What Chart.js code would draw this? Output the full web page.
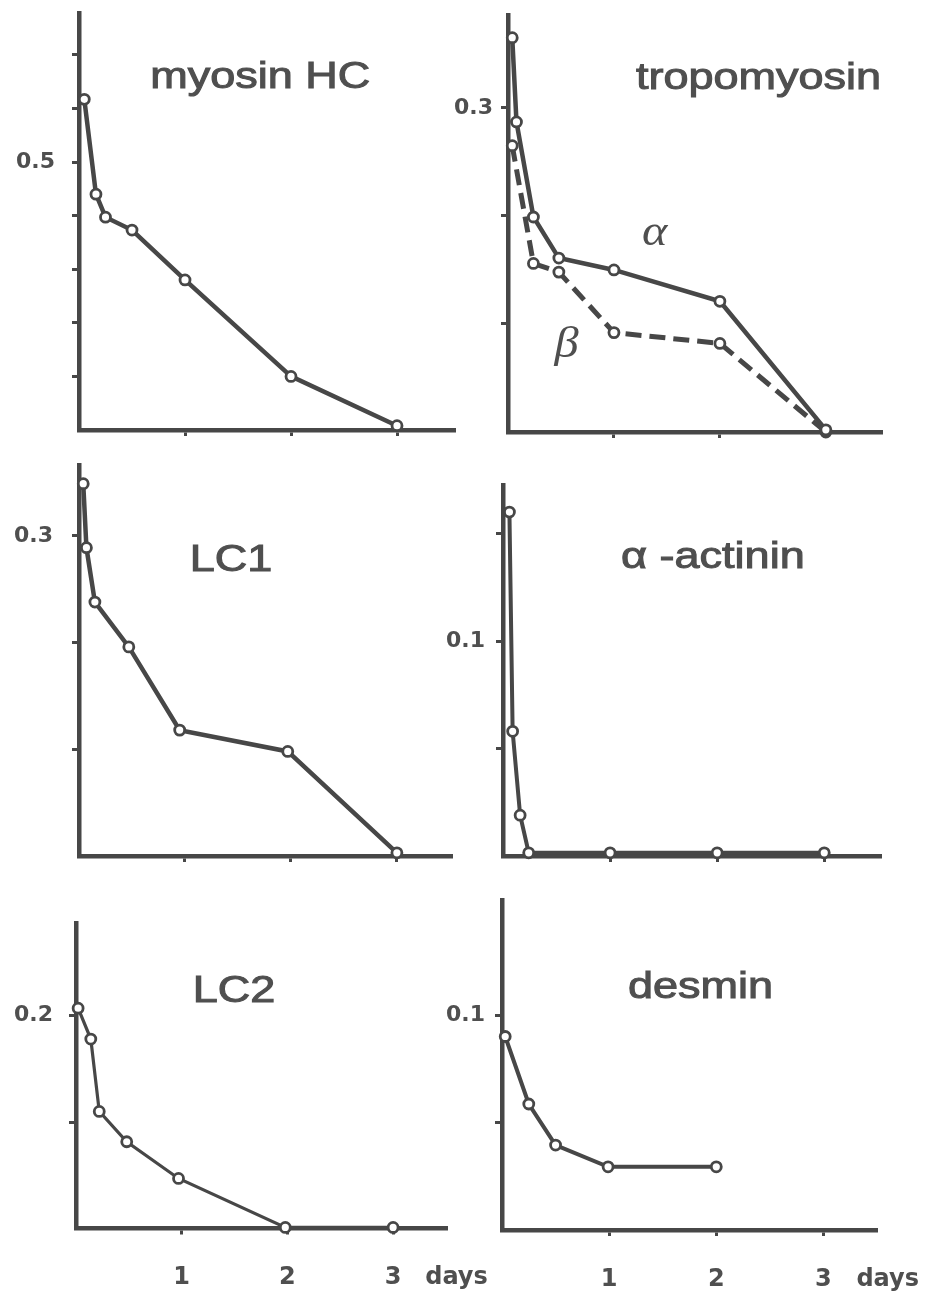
<!DOCTYPE html>
<html>
<head>
<meta charset="utf-8">
<script src="https://cdn.jsdelivr.net/npm/chart.js@4.4.1/dist/chart.umd.min.js"></script>
<style>
  html, body { margin: 0; padding: 0; background: #fff; }
  #page { position: relative; width: 932px; height: 1298px; overflow: hidden; }
  #page canvas { position: absolute; }
</style>
</head>
<body>
<div id="page">
  <canvas id="cMyosin"></canvas>
  <canvas id="cTropo"></canvas>
  <canvas id="cLC1"></canvas>
  <canvas id="cActinin"></canvas>
  <canvas id="cLC2"></canvas>
  <canvas id="cDesmin"></canvas>
</div>
<script>
// ---- data (days after start, relative amount) ----
const myosinDays   = [0.05, 0.16, 0.25, 0.5, 1.0, 2.0, 3.0];
const myosinHC     = [0.617, 0.44, 0.397, 0.373, 0.28, 0.10, 0.008];

const tropoAlphaDays = [0.04, 0.08, 0.24, 0.48, 1.0, 2.0, 3.0];
const tropoAlpha     = [0.365, 0.287, 0.199, 0.161, 0.150, 0.121, 0.002];
const tropoBetaDays  = [0.04, 0.24, 0.48, 1.0, 2.0, 3.0];
const tropoBeta      = [0.265, 0.156, 0.148, 0.092, 0.082, 0.0];

const lc1Days = [0.04, 0.07, 0.15, 0.47, 0.95, 1.97, 3.0];
const lc1     = [0.349, 0.289, 0.238, 0.196, 0.118, 0.098, 0.003];

const actininDays = [0.06, 0.09, 0.16, 0.24, 1.0, 2.0, 3.0];
const actinin     = [0.160, 0.058, 0.019, 0.0015, 0.0015, 0.0015, 0.0015];

const lc2Days = [0.02, 0.14, 0.22, 0.48, 0.97, 1.98, 3.0];
const lc2     = [0.207, 0.178, 0.110, 0.0815, 0.047, 0.001, 0.001];

const desminDays = [0.03, 0.25, 0.5, 0.99, 2.0];
const desmin     = [0.090, 0.0586, 0.0395, 0.0294, 0.0294];

// ---- tick values / labels ----
const xTickDays = [1, 2, 3];
const UNIT_LABEL = "days";
const yTicksMyosin  = [0.1, 0.2, 0.3, 0.4, 0.5, 0.6, 0.7];
const yTicksTropo   = [0.1, 0.2, 0.3];
const yTicksLC1     = [0.1, 0.2, 0.3];
const yTicksActinin = [0.05, 0.1, 0.15];
const yTicksLC2     = [0.1, 0.2];
const yTicksDesmin  = [0.05, 0.1];
const yLabelMyosin = [0.5];
const yLabelTropo = [0.3];
const yLabelLC1 = [0.3];
const yLabelActinin = [0.1];
const yLabelLC2 = [0.2];
const yLabelDesmin = [0.1];

// ---- look ----
const INK  = "#474747";
const TEXT = "#4f4f4f";
const UNIT_AT = 3.6;          // where "days" sits on the x axis
const Y_TICK_LEN = 7;
const X_TICK_LEN = 6;
const TITLE_FONT = '36px "Liberation Sans", Arial, sans-serif';
const GREEK_FONT = 'italic 44px "Liberation Serif", serif';

const panels = [
  {
    id: "cMyosin", box: { left: 0, top: 0, w: 520, h: 445 },
    axis: { left: 79, top: 13, right: 455, bottom: 430 }, yGap: 24,
    xMax: 3.547, yMax: 0.778, yTicks: yTicksMyosin, yLabels: yLabelMyosin, bottomRow: false,
    series: [{ days: myosinDays, values: myosinHC, width: 4.5 }],
    texts: [{ text: "myosin HC", x: 1.71, y: 0.638, font: TITLE_FONT, stretch: 1.25, stroke: 1 }],
  },
  {
    id: "cTropo", box: { left: 420, top: 0, w: 512, h: 445 },
    axis: { left: 508, top: 15, right: 882, bottom: 432 }, yGap: 15,
    xMax: 3.53, yMax: 0.386, yTicks: yTicksTropo, yLabels: yLabelTropo, bottomRow: false,
    series: [
      { days: tropoAlphaDays, values: tropoAlpha, width: 4.5 },
      { days: tropoBetaDays, values: tropoBeta, width: 5, dash: [16, 8] },
    ],
    texts: [
      { text: "tropomyosin", x: 2.365, y: 0.3176, font: TITLE_FONT, stretch: 1.25, stroke: 1 },
      { text: "α", x: 1.384, y: 0.173, font: GREEK_FONT, stretch: 1.1, stroke: 0 },
      { text: "β", x: 0.553, y: 0.069, font: GREEK_FONT, stretch: 1.1, stroke: 0 },
    ],
  },
  {
    id: "cLC1", box: { left: 0, top: 445, w: 520, h: 425 },
    axis: { left: 79, top: 465, right: 452, bottom: 856 }, yGap: 26,
    xMax: 3.52, yMax: 0.3665, yTicks: yTicksLC1, yLabels: yLabelLC1, bottomRow: false,
    series: [{ days: lc1Days, values: lc1, width: 4.5 }],
    texts: [{ text: "LC1", x: 1.434, y: 0.2674, font: TITLE_FONT, stretch: 1.25, stroke: 1 }],
  },
  {
    id: "cActinin", box: { left: 420, top: 445, w: 512, h: 425 },
    axis: { left: 503, top: 485, right: 881, bottom: 856 }, yGap: 18,
    xMax: 3.53, yMax: 0.1726, yTicks: yTicksActinin, yLabels: yLabelActinin, bottomRow: false,
    series: [{ days: actininDays, values: actinin, width: 4 }],
    texts: [{ text: "α -actinin", x: 1.96, y: 0.134, font: TITLE_FONT, stretch: 1.25, stroke: 1 }],
  },
  {
    id: "cLC2", box: { left: 0, top: 870, w: 520, h: 428 },
    axis: { left: 76, top: 923, right: 447, bottom: 1228.5 }, yGap: 23,
    xMax: 3.51, yMax: 0.287, yTicks: yTicksLC2, yLabels: yLabelLC2, bottomRow: true,
    series: [{ days: lc2Days, values: lc2, width: 3.2 }],
    texts: [{ text: "LC2", x: 1.495, y: 0.213, font: TITLE_FONT, stretch: 1.25, stroke: 1 }],
  },
  {
    id: "cDesmin", box: { left: 420, top: 870, w: 512, h: 428 },
    axis: { left: 502, top: 900, right: 877, bottom: 1230 }, yGap: 17,
    xMax: 3.50, yMax: 0.1535, yTicks: yTicksDesmin, yLabels: yLabelDesmin, bottomRow: true,
    series: [{ days: desminDays, values: desmin, width: 4 }],
    texts: [{ text: "desmin", x: 1.853, y: 0.1079, font: TITLE_FONT, stretch: 1.25, stroke: 1 }],
  },
];

// free text drawn at data coordinates (titles, greek letters)
function textPlugin(items) {
  return {
    id: "panelText",
    afterDatasetsDraw(chart) {
      const { ctx, scales } = chart;
      items.forEach((it) => {
        ctx.save();
        ctx.font = it.font;
        ctx.fillStyle = TEXT;
        ctx.strokeStyle = TEXT;
        ctx.textAlign = "center";
        ctx.textBaseline = "alphabetic";
        ctx.translate(scales.x.getPixelForValue(it.x), scales.y.getPixelForValue(it.y));
        ctx.scale(it.stretch, 1);
        ctx.fillText(it.text, 0, 0);
        if (it.stroke) {
          ctx.lineWidth = it.stroke;
          ctx.strokeText(it.text, 0, 0);
        }
        ctx.restore();
      });
    },
  };
}

function makePanel(p) {
  const canvas = document.getElementById(p.id);
  canvas.width = p.box.w;
  canvas.height = p.box.h;
  canvas.style.left = p.box.left + "px";
  canvas.style.top = p.box.top + "px";

  const yAxisWidth = p.axis.left - p.box.left;
  const xAxisHeight = p.box.top + p.box.h - p.axis.bottom;

  new Chart(canvas, {
    type: "scatter",
    data: {
      datasets: p.series.map((s) => ({
        data: s.days.map((d, i) => ({ x: d, y: s.values[i] })),
        showLine: true,
        tension: 0,
        borderColor: INK,
        borderWidth: s.width,
        borderDash: s.dash || [],
        pointRadius: 5,
        pointBorderWidth: 2.8,
        pointBackgroundColor: "#ffffff",
        pointBorderColor: INK,
        clip: false,
      })),
    },
    options: {
      responsive: false,
      animation: false,
      events: [],
      layout: {
        padding: {
          top: p.axis.top - p.box.top,
          right: p.box.left + p.box.w - p.axis.right,
          left: 0,
          bottom: 0,
        },
      },
      plugins: { legend: { display: false }, tooltip: { enabled: false } },
      scales: {
        x: {
          type: "linear",
          min: 0,
          max: p.xMax,
          afterBuildTicks: (s) => {
            const vals = p.bottomRow ? xTickDays.concat([UNIT_AT]) : xTickDays;
            s.ticks = vals.map((v) => ({ value: v }));
          },
          afterFit: (s) => {
            s.height = xAxisHeight;
            s.paddingLeft = 0;
            s.paddingRight = 0;
          },
          ticks: {
            autoSkip: false,
            maxRotation: 0,
            minRotation: 0,
            padding: 29,
            color: TEXT,
            font: { family: '"DejaVu Sans", sans-serif', size: 24, weight: "bold" },
            callback: (v) => {
              if (!p.bottomRow) return "";
              return v === UNIT_AT ? UNIT_LABEL : String(v);
            },
          },
          grid: {
            drawOnChartArea: false,
            tickLength: X_TICK_LEN,
            tickWidth: 3,
            tickColor: (c) => (c.tick && c.tick.value === UNIT_AT ? "rgba(0,0,0,0)" : INK),
          },
          border: { color: INK, width: 4.5 },
        },
        y: {
          type: "linear",
          min: 0,
          max: p.yMax,
          afterBuildTicks: (s) => {
            s.ticks = p.yTicks.map((v) => ({ value: v }));
          },
          afterFit: (s) => {
            s.width = yAxisWidth;
            s.paddingTop = 0;
            s.paddingBottom = 0;
          },
          ticks: {
            autoSkip: false,
            padding: p.yGap - Y_TICK_LEN,
            color: TEXT,
            font: { family: '"DejaVu Sans", sans-serif', size: 22, weight: "bold" },
            callback: (v) => (p.yLabels.includes(v) ? v.toFixed(1) : ""),
          },
          grid: {
            drawOnChartArea: false,
            tickLength: Y_TICK_LEN,
            tickWidth: 3,
            tickColor: INK,
          },
          border: { color: INK, width: 4.5 },
        },
      },
    },
    plugins: [textPlugin(p.texts)],
  });
}

panels.forEach(makePanel);
</script>
</body>
</html>
